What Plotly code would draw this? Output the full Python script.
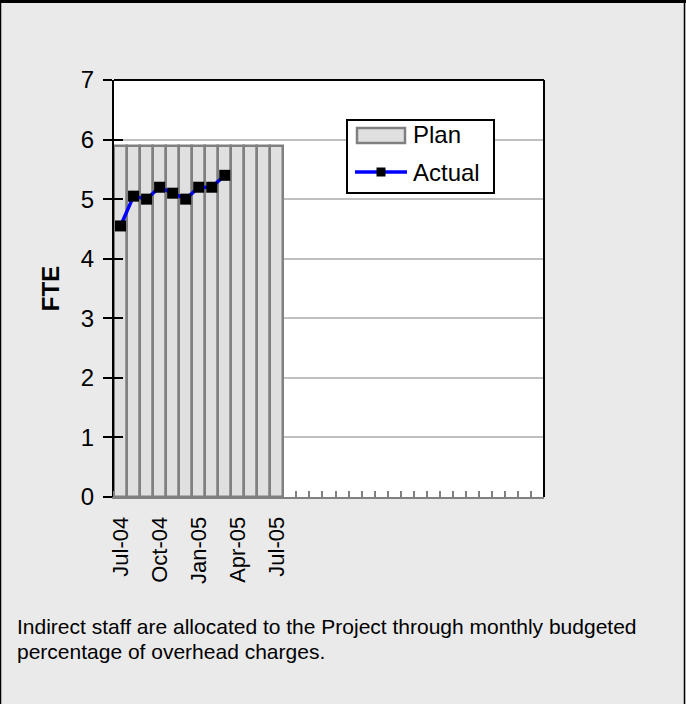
import plotly.graph_objects as go

# Monthly staffing, indirect staff (FTE)
months = ["Jul-04", "Aug-04", "Sep-04", "Oct-04", "Nov-04", "Dec-04",
          "Jan-05", "Feb-05", "Mar-05", "Apr-05", "May-05", "Jun-05",
          "Jul-05", "Aug-05", "Sep-05", "Oct-05", "Nov-05", "Dec-05",
          "Jan-06", "Feb-06", "Mar-06", "Apr-06", "May-06", "Jun-06",
          "Jul-06", "Aug-06", "Sep-06", "Oct-06", "Nov-06", "Dec-06",
          "Jan-07", "Feb-07", "Mar-07"]
plan = [5.9, 5.9, 5.9, 5.9, 5.9, 5.9, 5.9, 5.9, 5.9, 5.9, 5.9, 5.9, 5.9]
actual = [4.55, 5.05, 5.0, 5.2, 5.1, 5.0, 5.2, 5.2, 5.4]
labelled_months = ["Jul-04", "Oct-04", "Jan-05", "Apr-05", "Jul-05"]
y_ticks = [0, 1, 2, 3, 4, 5, 6, 7]
caption_lines = ["Indirect staff are allocated to the Project through monthly budgeted",
                 "percentage of overhead charges."]

FONT = "Arial, Liberation Sans, sans-serif"
W, H = 686, 704
L, R, T, B = 114, 142, 80, 207
PW, PH = W - L - R, H - T - B

PLAN_FILL, PLAN_EDGE = "#e0e0e0", "#808080"
ACTUAL_LINE, ACTUAL_MARK = "#0000ff", "#000000"

pos = {m: i for i, m in enumerate(months)}

fig = go.Figure()
fig.add_trace(go.Bar(
    x=[pos[m] for m in months[:len(plan)]], y=plan, name="Plan", width=1,
    marker=dict(color=PLAN_FILL, line=dict(color=PLAN_EDGE, width=2.5)),
))
fig.add_trace(go.Scatter(
    x=[pos[m] for m in months[:len(actual)]], y=actual, name="Actual",
    mode="lines+markers",
    line=dict(color=ACTUAL_LINE, width=3.5),
    marker=dict(symbol="square", size=11, color=ACTUAL_MARK),
))
# invisible companion trace so the overlay axis (inner half of y ticks) is rendered
fig.add_trace(go.Scatter(x=[pos[months[0]]], y=[plan[0]], yaxis="y2",
                         mode="markers", marker=dict(opacity=0),
                         showlegend=False, hoverinfo="skip"))


def px_x(p):
    return (p - L) / PW


def px_y(p):
    return (H - B - p) / PH


def pline(x0, y0, x1, y1, color, width):
    return dict(type="line", xref="paper", yref="paper",
                x0=px_x(x0), y0=px_y(y0), x1=px_x(x1), y1=px_y(y1),
                line=dict(color=color, width=width))


shapes = [
    # plot-area top and right edges
    dict(type="line", xref="paper", yref="paper", x0=0, x1=1, y0=1, y1=1,
         line=dict(color="#000000", width=2)),
    dict(type="line", xref="paper", yref="paper", x0=1, x1=1, y0=0, y1=1,
         line=dict(color="#000000", width=2)),
    # outer frame
    pline(0, 1.5, W, 1.5, "#000000", 3),
    pline(0.5, 0, 0.5, H, "#000000", 1.5),
    pline(W - 1.5, 0, W - 1.5, H, "#000000", 1.5),
    # legend box
    dict(type="rect", xref="paper", yref="paper",
         x0=px_x(347), x1=px_x(494), y0=px_y(120), y1=px_y(193),
         fillcolor="#ffffff", line=dict(color="#000000", width=2)),
    # legend key: Plan
    dict(type="rect", xref="paper", yref="paper",
         x0=px_x(357), x1=px_x(405), y0=px_y(128), y1=px_y(143),
         fillcolor=PLAN_FILL, line=dict(color=PLAN_EDGE, width=2.5)),
    # legend key: Actual
    pline(355, 172, 407, 172, ACTUAL_LINE, 3.5),
    dict(type="rect", xref="paper", yref="paper",
         x0=px_x(376.5), x1=px_x(385.5), y0=px_y(167.5), y1=px_y(176.5),
         fillcolor=ACTUAL_MARK, line=dict(width=0)),
]

annotations = [
    dict(xref="paper", yref="paper", x=px_x(411), y=px_y(y0),
         xanchor="left", yanchor="middle", showarrow=False, text=txt,
         font=dict(size=24, family=FONT, color="#000000"))
    for txt, y0 in (("Plan", 135), ("Actual", 173))
] + [
    dict(xref="paper", yref="paper", x=px_x(15), y=px_y(y0),
         xanchor="left", yanchor="middle", showarrow=False, text=txt,
         font=dict(size=21, family=FONT, color="#000000"))
    for txt, y0 in zip(caption_lines, (626, 651))
]

fig.update_layout(
    width=W, height=H,
    margin=dict(l=L, r=R, t=T, b=B, pad=0),
    paper_bgcolor="#eaeaea", plot_bgcolor="#ffffff",
    font=dict(family=FONT, color="#000000", size=24),
    bargap=0, showlegend=False,
    xaxis=dict(
        range=[-0.5, len(months) - 0.5],
        tickmode="array",
        tickvals=[pos[m] for m in labelled_months],
        ticktext=labelled_months,
        tickangle=-90, tickfont=dict(size=22, family=FONT),
        ticks="outside", ticklen=9, tickcolor="rgba(0,0,0,0)",
        showgrid=False, zeroline=False,
        showline=True, linecolor="#808080", linewidth=2,
        minor=dict(tickmode="linear", tick0=-0.5, dtick=1, ticks="inside",
                   ticklen=6, tickcolor="#808080", tickwidth=2, showgrid=False),
    ),
    yaxis=dict(
        range=[0, 7], tickmode="array", tickvals=y_ticks,
        ticks="outside", ticklen=9, tickwidth=2, tickcolor="#000000",
        ticklabelstandoff=4,
        showline=True, linecolor="#000000", linewidth=2,
        showgrid=True, gridcolor="#c0c0c0", gridwidth=1.5,
        zeroline=False, tickfont=dict(size=24, family=FONT),
        title=dict(text="<b>FTE</b>", font=dict(size=24, family=FONT), standoff=14),
    ),
    yaxis2=dict(
        range=[0, 7], overlaying="y", side="left", tickmode="array",
        tickvals=y_ticks, ticks="inside", ticklen=9, tickwidth=2,
        tickcolor="#000000", showticklabels=False, showgrid=False,
        zeroline=False, showline=False,
    ),
    shapes=shapes,
    annotations=annotations,
)

fig.write_html("out.html")
